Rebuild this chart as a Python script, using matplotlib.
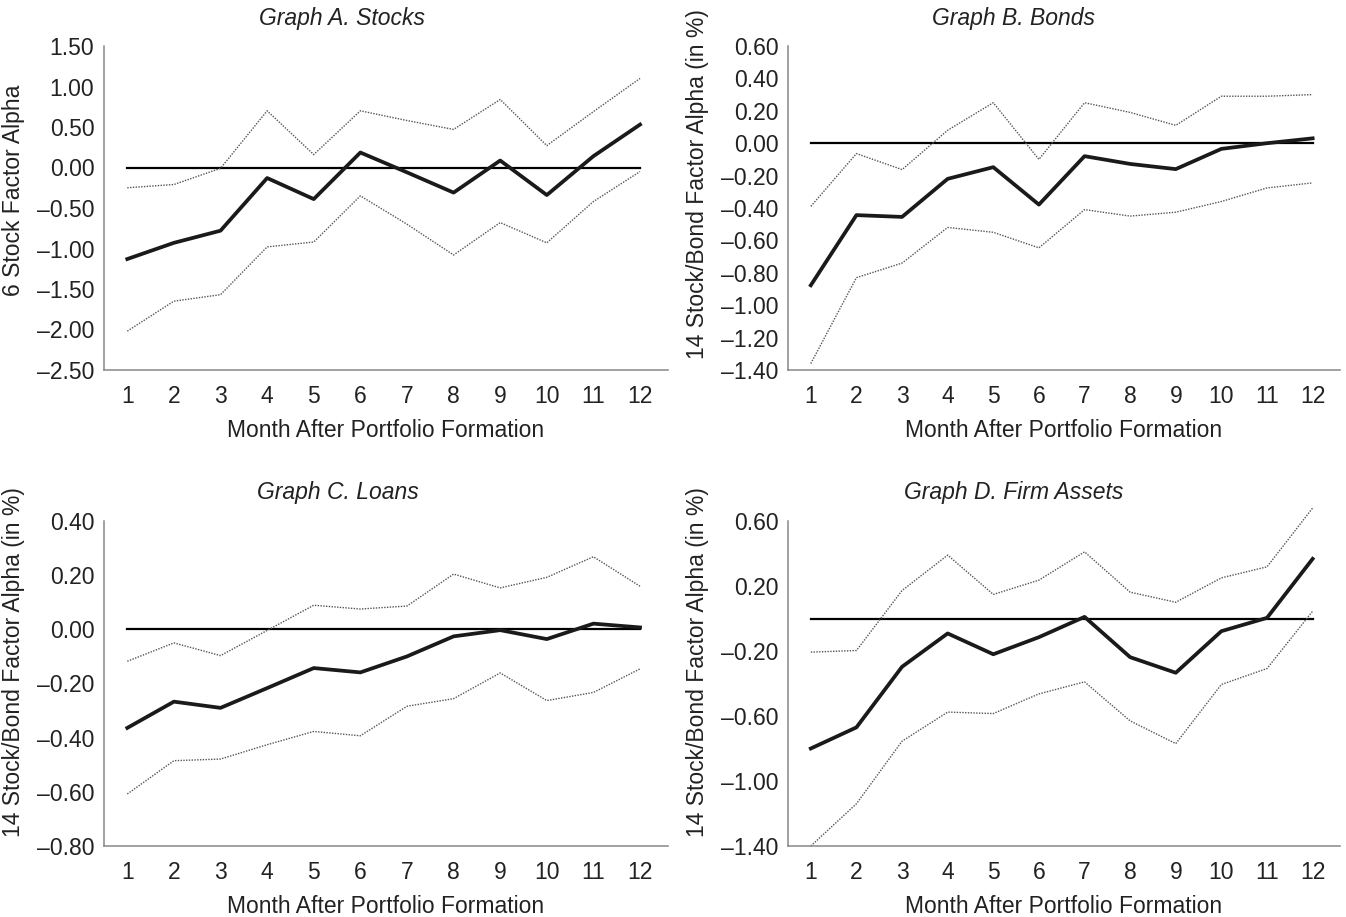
import numpy as np
import matplotlib
matplotlib.use("Agg")
import matplotlib.pyplot as plt

plt.rcParams["font.family"] = ["Liberation Sans", "DejaVu Sans"]

MONTHS = np.arange(1, 13)
ZERO = np.zeros(12)

# Graph A. Stocks
a_alpha = [-1.13, -0.93, -0.78, -0.13, -0.39, 0.185, -0.06, -0.31, 0.086, -0.34, 0.14, 0.53]
a_upper = [-0.25, -0.21, -0.01, 0.70, 0.16, 0.70, 0.58, 0.47, 0.84, 0.27, 0.69, 1.10]
a_lower = [-2.02, -1.65, -1.57, -0.98, -0.92, -0.35, -0.70, -1.08, -0.68, -0.93, -0.42, -0.05]

# Graph B. Bonds
b_alpha = [-0.877, -0.444, -0.455, -0.22, -0.148, -0.379, -0.08, -0.128, -0.16, -0.035, 0.0, 0.03]
b_upper = [-0.39, -0.064, -0.163, 0.08, 0.25, -0.10, 0.25, 0.19, 0.11, 0.29, 0.29, 0.30]
b_lower = [-1.36, -0.83, -0.74, -0.52, -0.55, -0.646, -0.41, -0.45, -0.426, -0.36, -0.276, -0.245]

# Graph C. Loans
c_alpha = [-0.364, -0.267, -0.29, -0.217, -0.143, -0.159, -0.10, -0.026, -0.003, -0.036, 0.021, 0.007]
c_upper = [-0.118, -0.05, -0.097, -0.004, 0.089, 0.075, 0.086, 0.204, 0.153, 0.192, 0.268, 0.159]
c_lower = [-0.608, -0.485, -0.479, -0.426, -0.377, -0.393, -0.284, -0.256, -0.161, -0.263, -0.233, -0.146]

# Graph D. Firm Assets
d_alpha = [-0.80, -0.67, -0.297, -0.092, -0.22, -0.115, 0.01, -0.238, -0.334, -0.078, 0.004, 0.367]
d_upper = [-0.207, -0.197, 0.172, 0.39, 0.148, 0.236, 0.41, 0.162, 0.10, 0.25, 0.318, 0.68]
d_lower = [-1.40, -1.14, -0.755, -0.576, -0.585, -0.464, -0.39, -0.63, -0.77, -0.406, -0.308, 0.045]

panels = [
    ("Graph A. Stocks", "6 Stock Factor Alpha", a_alpha, a_upper, a_lower,
     np.arange(-2.5, 1.51, 0.5), 0.556),
    ("Graph B. Bonds", "14 Stock/Bond Factor Alpha (in %)", b_alpha, b_upper, b_lower,
     np.arange(-1.4, 0.61, 0.2), 0.574),
    ("Graph C. Loans", "14 Stock/Bond Factor Alpha (in %)", c_alpha, c_upper, c_lower,
     np.arange(-0.8, 0.41, 0.2), 0.566),
    ("Graph D. Firm Assets", "14 Stock/Bond Factor Alpha (in %)", d_alpha, d_upper, d_lower,
     np.arange(-1.4, 0.61, 0.4), 0.566),
]

W, H = 1346, 917
boxes = [(104, 46, 668, 370), (788, 46, 1340, 370),
         (104, 521, 668, 846), (788, 521, 1340, 846)]
title_cx = [342, 1013, 338, 1014]
FS = 16.5
TXT = "#222222"


def fmt(v):
    s = f"{v:.2f}"
    if s == "-0.00":
        s = "0.00"
    return s.replace("-", "\u2013")


fig = plt.figure(figsize=(W / 100, H / 100), dpi=100)

for (title, ylab, alpha, up, lo, yt, ly), (x0, y0, x1, y1), tcx in zip(panels, boxes, title_cx):
    ax = fig.add_axes([x0 / W, 1 - y1 / H, (x1 - x0) / W, (y1 - y0) / H])
    ax.plot(MONTHS, ZERO, color="black", lw=1.6)
    ax.plot(MONTHS, up, color="#555555", lw=1.0, ls=(0, (1, 1)), clip_on=False)
    ax.plot(MONTHS, lo, color="#555555", lw=1.0, ls=(0, (1, 1)), clip_on=False)
    ax.plot(MONTHS, alpha, color="#1a1a1a", lw=2.7, clip_on=False)

    ax.set_xlim(0.5, 12.6)
    ax.set_ylim(yt[0], yt[-1])
    ax.set_xticks(MONTHS)
    ax.set_yticks(yt)
    ax.set_yticklabels([fmt(v) for v in yt])
    ax.tick_params(length=0, labelsize=FS, colors=TXT)
    ax.tick_params(axis="x", pad=11)
    ax.tick_params(axis="y", pad=7)

    for s in ["top", "right"]:
        ax.spines[s].set_visible(False)
    for s in ["left", "bottom"]:
        ax.spines[s].set_color("#888888")
        ax.spines[s].set_linewidth(1.1)

    ax.set_xlabel("Month After Portfolio Formation", fontsize=FS, color=TXT, labelpad=8)
    ax.set_ylabel(ylab, fontsize=FS, color=TXT)
    ax.yaxis.set_label_coords(-0.14 * 564 / (x1 - x0), ly)
    ax.text((tcx - x0) / (x1 - x0), 1 + 28 / (y1 - y0), title, transform=ax.transAxes,
            ha="center", va="center", fontsize=FS, style="italic", color=TXT)

fig.savefig("out.png", dpi=100)
